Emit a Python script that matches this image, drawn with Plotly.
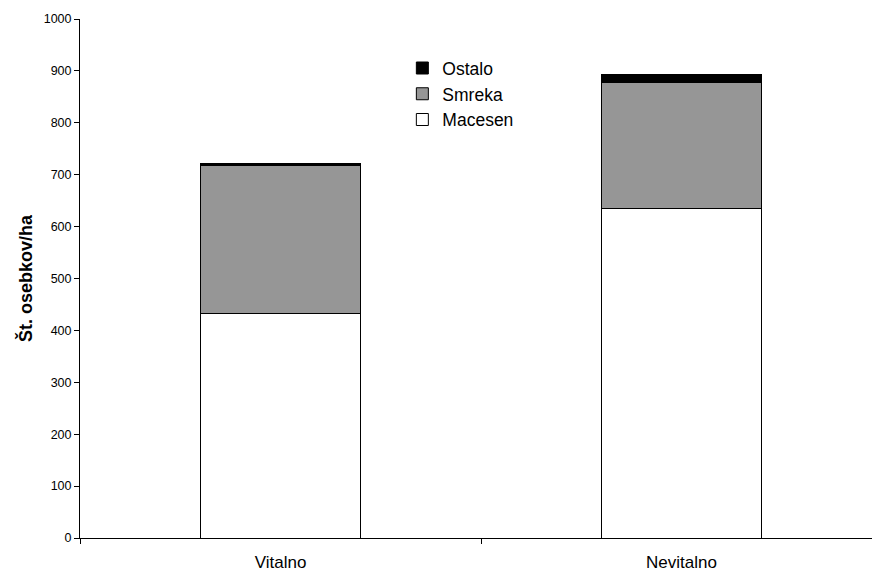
import plotly.graph_objects as go

# Stand density by vitality class and species
categories = ["Vitalno", "Nevitalno"]
macesen = [432, 635]
smreka = [285, 242]
ostalo = [5, 16]

series = [
    ("Macesen", macesen, "#ffffff"),
    ("Smreka", smreka, "#969696"),
    ("Ostalo", ostalo, "#000000"),
]

fig = go.Figure()
for name, values, color in series:
    fig.add_trace(go.Bar(
        x=categories,
        y=values,
        name=name,
        legendgroup=name,
        marker=dict(color=color, line=dict(color="#000000", width=1)),
        width=0.4,
    ))

font_family = "Arial, 'Liberation Sans', sans-serif"

fig.update_layout(
    barmode="stack",
    width=872,
    height=574,
    margin=dict(l=80, r=0, t=19, b=36),
    paper_bgcolor="white",
    plot_bgcolor="white",
    font=dict(family=font_family, color="#000000"),
    legend=dict(
        x=0.407, y=0.94, xanchor="left", yanchor="top",
        traceorder="reversed",
        tracegroupgap=9,
        font=dict(size=17.5, family=font_family),
        bgcolor="rgba(0,0,0,0)",
        itemwidth=30,
    ),
    xaxis=dict(
        range=[-0.5, 1.475],
        showline=True, linecolor="#000000", linewidth=1,
        ticks="outside", tickson="boundaries", ticklen=5, tickcolor="#000000",
        tickfont=dict(size=17),
        ticklabelstandoff=9,
        automargin=False,
        showgrid=False, zeroline=False,
    ),
    yaxis=dict(
        range=[0, 1000],
        dtick=100,
        showline=True, linecolor="#000000", linewidth=1,
        ticks="outside", ticklen=5, tickcolor="#000000",
        tickfont=dict(size=12.5),
        automargin=False,
        showgrid=False, zeroline=False,
        title=dict(text="<b>Št. osebkov/ha</b>", font=dict(size=18), standoff=6),
    ),
)

fig.write_html("out.html")
